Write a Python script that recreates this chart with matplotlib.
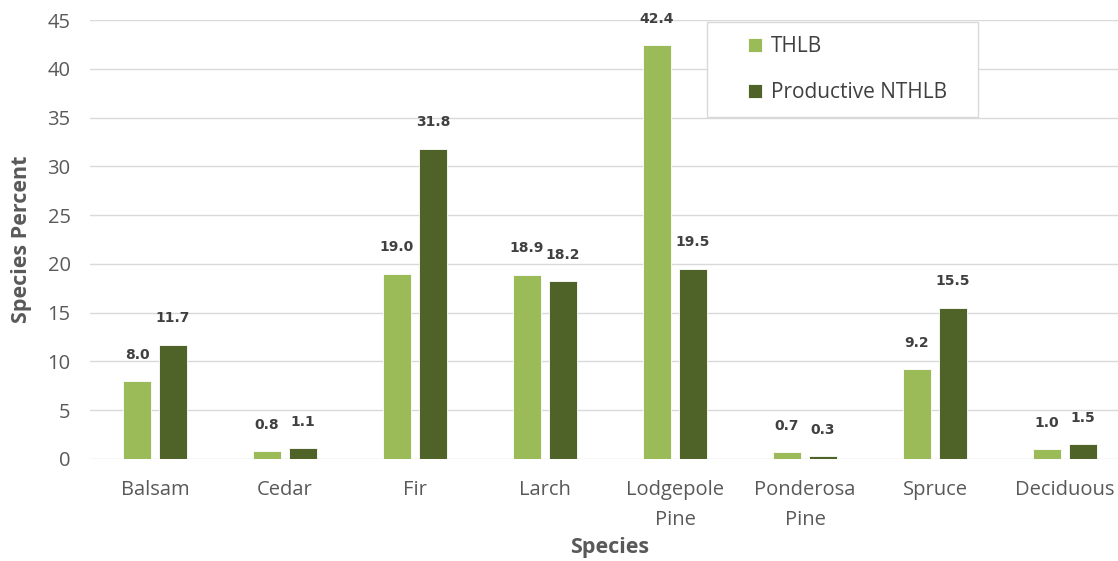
import matplotlib.pyplot as plt
from matplotlib.patches import Rectangle
import numpy as np

species = ['Balsam', 'Cedar', 'Fir', 'Larch', 'Lodgepole\nPine', 'Ponderosa\nPine', 'Spruce', 'Deciduous']
thlb = [8.0, 0.8, 19.0, 18.9, 42.4, 0.7, 9.2, 1.0]
nthlb = [11.7, 1.1, 31.8, 18.2, 19.5, 0.3, 15.5, 1.5]

light = '#9BBB59'
dark = '#4F6228'
txt = '#595959'

plt.rcParams['font.family'] = ['Open Sans', 'DejaVu Sans']

fig = plt.figure(figsize=(11.18, 5.61), dpi=100)
ax = fig.add_axes([90 / 1118, 102 / 561, 1028 / 1118, 439 / 561])

x = np.arange(len(species))
w = 0.22
off = 0.138
b1 = ax.bar(x - off, thlb, w, color=light, edgecolor='white', linewidth=0.6, label='THLB', zorder=3)
b2 = ax.bar(x + off, nthlb, w, color=dark, edgecolor='white', linewidth=0.6, label='Productive NTHLB', zorder=3)

for bars, vals in ((b1, thlb), (b2, nthlb)):
    for bar, v in zip(bars, vals):
        ax.annotate('%.1f' % v, (bar.get_x() + bar.get_width() / 2, v),
                    xytext=(0, 14), textcoords='offset points', ha='center', va='bottom',
                    fontsize=10, fontweight='bold', color='#404040', family='DejaVu Sans')

ax.set_ylim(0, 45)
ax.set_yticks(range(0, 50, 5))
ax.set_xlim(-0.5, 7.5 - 12 / 130)
ax.set_xticks(x)
ax.set_xticklabels(species, fontsize=14.5, color=txt, linespacing=1.7)
ax.tick_params(axis='y', labelsize=14.5, labelcolor=txt, length=0, pad=14)
ax.tick_params(axis='x', length=0, pad=15)
ax.grid(axis='y', color='#D9D9D9', linewidth=1, zorder=0)
for s in ax.spines.values():
    s.set_visible(False)

ax.set_xlabel('Species', fontsize=15.5, fontweight='bold', color=txt)
ax.set_ylabel('Species Percent', fontsize=15.5, fontweight='bold', color=txt)
ax.xaxis.set_label_coords(0.505, -0.178)
ax.yaxis.set_label_coords(-0.056, 0.5)

# legend frame drawn separately so the inner padding can be wider than tall
box = Rectangle((707 / 1118, 1 - 117 / 561), 271 / 1118, 95 / 561,
                transform=fig.transFigure, facecolor='white',
                edgecolor='#D9D9D9', linewidth=1, zorder=4, clip_on=False)
ax.add_patch(box)
leg = ax.legend(loc='upper left', bbox_to_anchor=((748 - 90) / 1028, (459 - 36) / 439), fontsize=15,
                frameon=False, handlelength=0.65, handleheight=0.65, handletextpad=0.45,
                labelspacing=1.2, borderpad=0, borderaxespad=0)
leg.set_zorder(5)
for t in leg.get_texts():
    t.set_color('#404040')

fig.savefig('out.png', dpi=100)
